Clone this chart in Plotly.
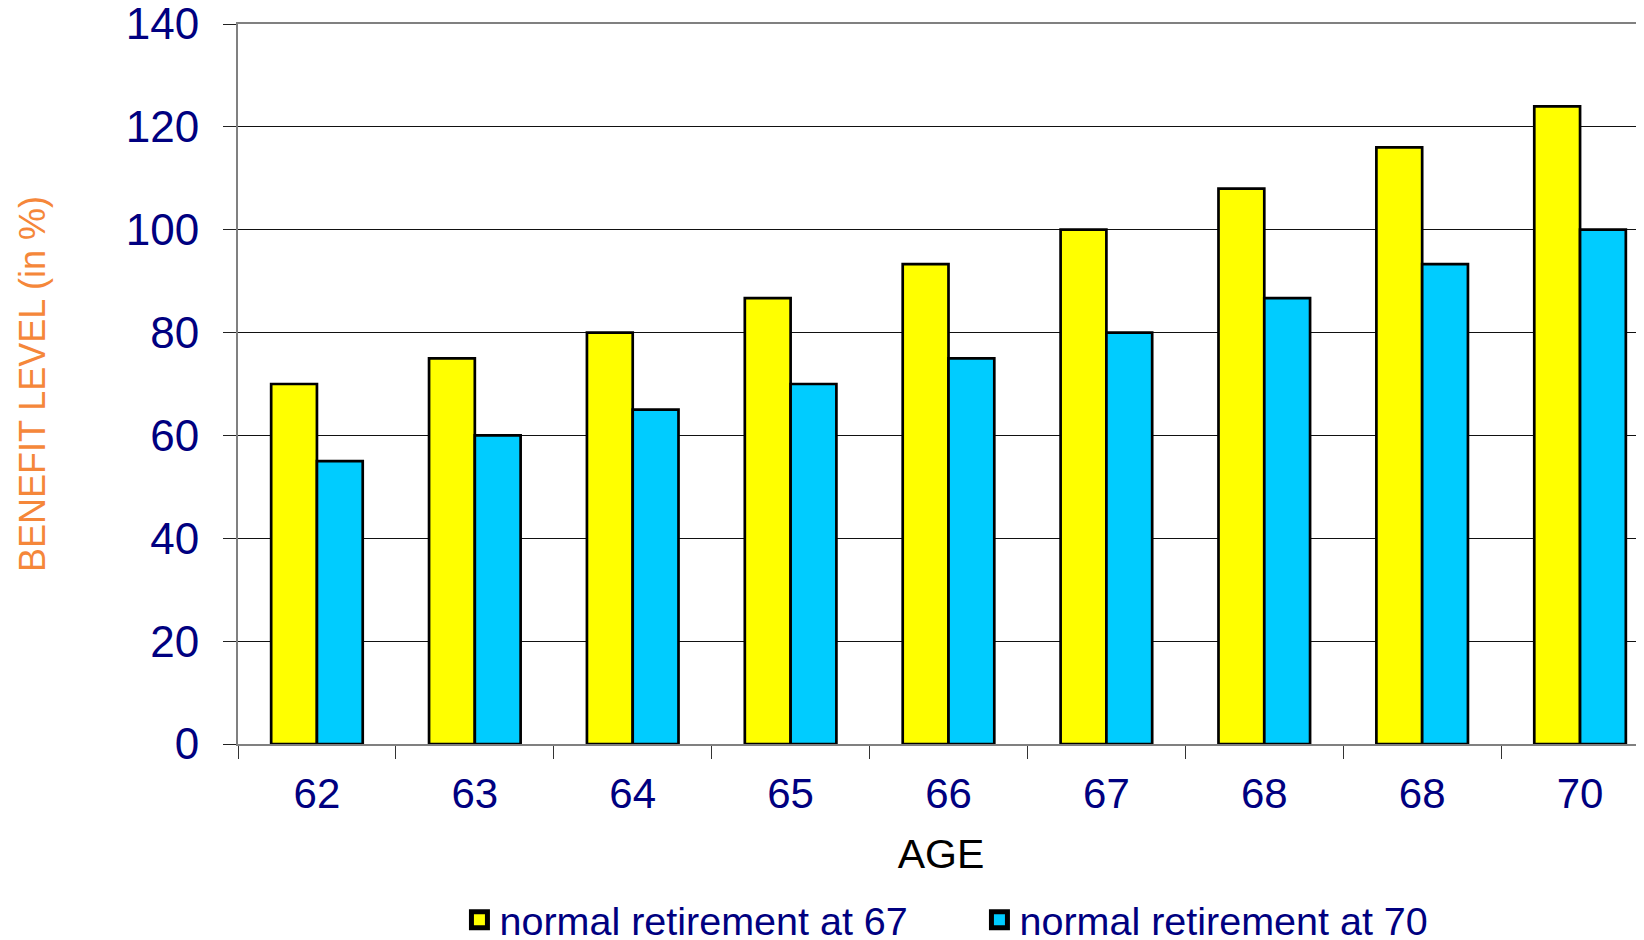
import plotly.graph_objects as go

ages = ["62", "63", "64", "65", "66", "67", "68", "68", "70"]
retire_67 = [70, 75, 80, 86.7, 93.3, 100, 108, 116, 124]
retire_70 = [55, 60, 65, 70, 75, 80, 86.7, 93.3, 100]
series_names = ["normal retirement at 67", "normal retirement at 70"]
y_ticks = [0, 20, 40, 60, 80, 100, 120, 140]

YELLOW = "#FFFF00"
BLUE = "#00CCFF"
NAVY = "#000080"
FONT = "Liberation Sans, Arial, sans-serif"

idx = list(range(len(ages)))

fig = go.Figure()
for vals, col in [(retire_67, YELLOW), (retire_70, BLUE)]:
    fig.add_trace(go.Bar(
        x=idx, y=vals, marker=dict(color=col, line=dict(color="black", width=2.7)),
        showlegend=False, hoverinfo="x+y",
    ))
# legend entries with larger square symbols
for name, col in zip(series_names, [YELLOW, BLUE]):
    fig.add_trace(go.Scatter(
        x=[None], y=[None], mode="markers", name=name,
        marker=dict(symbol="square", size=16, color=col, line=dict(color="black", width=5)),
    ))

fig.update_layout(
    width=1644, height=940,
    margin=dict(l=230, r=8, t=16, b=204, autoexpand=False),
    paper_bgcolor="white", plot_bgcolor="white",
    barmode="group", bargap=0.42, bargroupgap=0,
    font=dict(family=FONT, color=NAVY),
    showlegend=True,
    legend=dict(
        orientation="h", x=0.1575, xanchor="left", y=-0.2444, yanchor="middle",
        font=dict(size=39.5, color=NAVY, family=FONT),
        entrywidthmode="pixels", entrywidth=475, itemsizing="trace",
        bgcolor="rgba(0,0,0,0)",
    ),
)

fig.update_xaxes(
    automargin=False,
    range=[-0.5, 8.405],
    tickmode="array", tickvals=idx, ticktext=ages,
    ticks="", tickfont=dict(size=42, color=NAVY, family=FONT),
    ticklabelstandoff=12, ticklabeloverflow="allow",
    showline=True, linecolor="#808080", linewidth=2, mirror=True,
    showgrid=False, zeroline=False,
    minor=dict(tickmode="array", tickvals=[i - 0.5 for i in range(len(ages) + 1)],
               ticks="outside", ticklen=13, tickcolor="#333333", tickwidth=1, showgrid=False),
    title=dict(text="AGE", font=dict(size=41, color="black", family=FONT), standoff=23),
)
fig.update_yaxes(
    automargin=False,
    range=[0, 140], tickmode="array", tickvals=y_ticks,
    ticks="outside", ticklen=13, tickcolor="#222222", tickwidth=1,
    tickfont=dict(size=44, color=NAVY, family=FONT),
    ticklabelstandoff=15, ticklabeloverflow="allow",
    showline=True, linecolor="#808080", linewidth=2,
    showgrid=True, gridcolor="#111111", gridwidth=1, zeroline=False,
    title=dict(text="BENEFIT LEVEL (in %)", font=dict(size=36, color="#F5873A", family=FONT), standoff=69),
)

fig.write_html("out.html")
